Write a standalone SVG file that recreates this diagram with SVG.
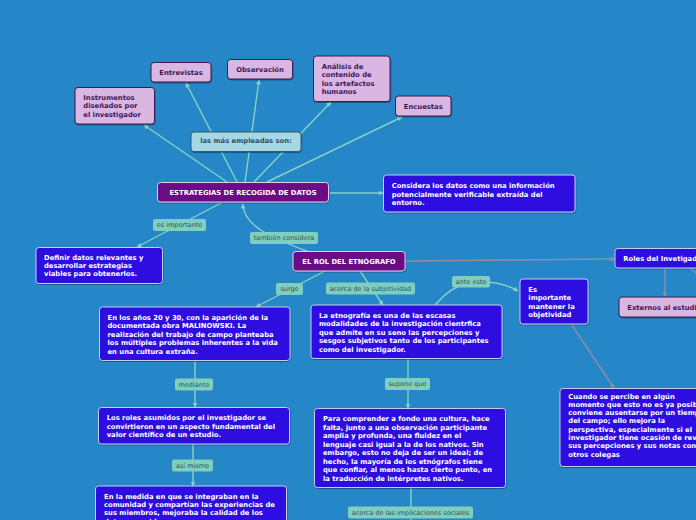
<svg xmlns="http://www.w3.org/2000/svg" width="696" height="520" viewBox="0 0 696 520">
<defs>
<style>
.box{rx:3px;ry:3px;stroke-width:1}
.blue{fill:#2D0CE0;stroke:#C8CDF4}
.purple{fill:#6A0F85;stroke:#E2CFEC}
.lilac{fill:#DAB6E3;stroke:#3C1A4C}
.cyan{fill:#A6D7E5;stroke:#2F5B6B}
.lbl{fill:#7FCEBE;rx:2px;ry:2px}
text{font-family:"DejaVu Sans","Verdana",sans-serif}
.tw{fill:#FFFFFF;font-weight:bold;font-size:6.8px}
.td{fill:#3E1658;font-weight:bold;font-size:6.8px}
.tc{fill:#2E4E5A;font-weight:bold;font-size:6.8px}
.tl{fill:#2E5858;font-size:6.5px}
.c{fill:none;stroke:#86D1C2;stroke-width:1.4}
.g{fill:none;stroke:#8C8FA0;stroke-width:1.4}
</style>
<marker id="at" viewBox="0 0 10 10" refX="9" refY="5" markerWidth="5" markerHeight="5" orient="auto" markerUnits="userSpaceOnUse"><path d="M0,0 L10,5 L0,10 z" fill="#86D1C2"/></marker>
<marker id="ag" viewBox="0 0 10 10" refX="9" refY="5" markerWidth="5" markerHeight="5" orient="auto" markerUnits="userSpaceOnUse"><path d="M0,0 L10,5 L0,10 z" fill="#8C8FA0"/></marker>
<filter id="sh" x="-10%" y="-10%" width="120%" height="130%"><feDropShadow dx="0.5" dy="1" stdDeviation="0.6" flood-color="#000" flood-opacity="0.35"/></filter>
</defs>
<rect x="0" y="0" width="696" height="520" fill="#2587C8"/>

<g id="connectors">
<path class="c" d="M227,182 L144,125" marker-end="url(#at)"/>
<path class="c" d="M237,182 L186,83" marker-end="url(#at)"/>
<path class="c" d="M245,182 L259,80" marker-end="url(#at)"/>
<path class="c" d="M254,182 L331,102" marker-end="url(#at)"/>
<path class="c" d="M267,182 L402,117" marker-end="url(#at)"/>
<path class="c" d="M330,193 L383,193" marker-end="url(#at)"/>
<path class="c" d="M221,203 L137,247" marker-end="url(#at)"/>
<path class="c" d="M309,252 C272,238 243,226 243,204" marker-end="url(#at)"/>
<path class="g" d="M406,261 L615,259" marker-end="url(#ag)"/>
<path class="g" d="M665,268 L665,296" marker-end="url(#ag)"/>
<path class="g" d="M690,268 L700,276"/>
<path class="g" d="M572,325 L614,388" marker-end="url(#ag)"/>
<path class="c" d="M325,271 L256,307" marker-end="url(#at)"/>
<path class="c" d="M360,271 L383,305" marker-end="url(#at)"/>
<path class="c" d="M435,305 Q450,287 470,282 Q500,280 518,291" marker-end="url(#at)"/>
<path class="c" d="M195,361 L195,407" marker-end="url(#at)"/>
<path class="c" d="M193,444 L193,486" marker-end="url(#at)"/>
<path class="c" d="M408,359 L408,408" marker-end="url(#at)"/>
<path class="c" d="M411,488 L411,520"/>
</g>

<g id="lbl-mas">
<rect class="box cyan" x="191" y="132" width="110" height="19.5" filter="url(#sh)"/>
<text class="tc" x="246" y="143.2" text-anchor="middle">las más empleadas son:</text>
</g>
<g id="lbl-es-importante">
<rect class="lbl" x="153" y="219" width="53" height="12"/>
<text class="tl" x="179.5" y="227.3" text-anchor="middle">es importante</text>
</g>
<g id="lbl-tambien">
<rect class="lbl" x="250" y="232" width="68" height="12"/>
<text class="tl" x="284" y="240.3" text-anchor="middle">también considera</text>
</g>
<g id="lbl-surge">
<rect class="lbl" x="276" y="283" width="27" height="12"/>
<text class="tl" x="289.5" y="291.3" text-anchor="middle">surge</text>
</g>
<g id="lbl-subjetividad">
<rect class="lbl" x="326" y="282.5" width="89" height="12"/>
<text class="tl" x="370.5" y="290.8" text-anchor="middle">acerca de la subjetividad</text>
</g>
<g id="lbl-ante">
<rect class="lbl" x="452" y="276" width="38" height="11.5"/>
<text class="tl" x="471" y="284.2" text-anchor="middle">ante esto</text>
</g>
<g id="lbl-mediante">
<rect class="lbl" x="175" y="378.5" width="38" height="12"/>
<text class="tl" x="194" y="386.8" text-anchor="middle">mediante</text>
</g>
<g id="lbl-supone">
<rect class="lbl" x="385" y="378" width="45" height="12"/>
<text class="tl" x="407.5" y="386.3" text-anchor="middle">supone que</text>
</g>
<g id="lbl-asi">
<rect class="lbl" x="172" y="459.5" width="41" height="12"/>
<text class="tl" x="192.5" y="467.8" text-anchor="middle">así mismo</text>
</g>
<g id="lbl-implicaciones">
<rect class="lbl" x="348" y="506.5" width="125" height="12"/>
<text class="tl" x="410.5" y="514.8" text-anchor="middle">acerca de las implicaciones sociales</text>
</g>

<g id="n-instrumentos">
<rect class="box lilac" x="75" y="87.5" width="79.5" height="36.5" filter="url(#sh)"/>
<text class="td" x="83.3"><tspan x="83.3" y="100.2">Instrumentos</tspan><tspan x="83.3" y="108.4">diseñados por</tspan><tspan x="83.3" y="116.6">el investigador</tspan></text>
</g>
<g id="n-entrevistas">
<rect class="box lilac" x="151" y="62.5" width="60" height="19.5" filter="url(#sh)"/>
<text class="td" x="181" y="75.2" text-anchor="middle">Entrevistas</text>
</g>
<g id="n-observacion">
<rect class="box lilac" x="227.5" y="59.5" width="65" height="19.5" filter="url(#sh)"/>
<text class="td" x="260" y="71.8" text-anchor="middle">Observación</text>
</g>
<g id="n-analisis">
<rect class="box lilac" x="313.5" y="56" width="76.5" height="45.5" filter="url(#sh)"/>
<text class="td" x="321.7"><tspan x="321.7" y="68.5">Análisis de</tspan><tspan x="321.7" y="76.8">contenido de</tspan><tspan x="321.7" y="85.5">los artefactos</tspan><tspan x="321.7" y="94">humanos</tspan></text>
</g>
<g id="n-encuestas">
<rect class="box lilac" x="395.5" y="96" width="55.5" height="20" filter="url(#sh)"/>
<text class="td" x="423.3" y="109.2" text-anchor="middle">Encuestas</text>
</g>
<g id="n-estrategias">
<rect class="box purple" x="157.5" y="182.5" width="171" height="19.5" filter="url(#sh)"/>
<text class="tw" x="243" y="194.6" text-anchor="middle">ESTRATEGIAS DE RECOGIDA DE DATOS</text>
</g>
<g id="n-considera">
<rect class="box blue" x="383.5" y="175" width="191.5" height="37" filter="url(#sh)"/>
<text class="tw"><tspan x="391.7" y="188.2">Considera los datos como una información</tspan><tspan x="391.7" y="196.6">potencialmente verificable extraída del</tspan><tspan x="391.7" y="205.2">entorno.</tspan></text>
</g>
<g id="n-definir">
<rect class="box blue" x="36" y="247.5" width="126.5" height="36" filter="url(#sh)"/>
<text class="tw"><tspan x="44" y="259.8">Definir datos relevantes y</tspan><tspan x="44" y="268.2">desarrollar estrategias</tspan><tspan x="44" y="276.2">viables para obtenerlos.</tspan></text>
</g>
<g id="n-rol">
<rect class="box purple" x="293" y="251.5" width="112" height="19.5" filter="url(#sh)"/>
<text class="tw" x="349" y="263.6" text-anchor="middle">EL ROL DEL ETNÓGRAFO</text>
</g>
<g id="n-roles-inv">
<rect class="box blue" x="615" y="248.5" width="95" height="19.5" filter="url(#sh)"/>
<text class="tw" x="623.3" y="260.8">Roles del Invetigador</text>
</g>
<g id="n-externos">
<rect class="box lilac" x="619" y="297" width="90" height="20" filter="url(#sh)"/>
<text class="td" x="627.3" y="309.8">Externos al estudio</text>
</g>
<g id="n-es-importante">
<rect class="box blue" x="520" y="279" width="68" height="45" filter="url(#sh)"/>
<text class="tw"><tspan x="528.3" y="291.8">Es</tspan><tspan x="528.3" y="299.8">importante</tspan><tspan x="528.3" y="308.5">mantener la</tspan><tspan x="528.3" y="316.5">objetividad</tspan></text>
</g>
<g id="n-anos">
<rect class="box blue" x="99.5" y="307" width="190.5" height="53.5" filter="url(#sh)"/>
<text class="tw"><tspan x="107.5" y="319.8">En los años 20 y 30, con la aparición de la</tspan><tspan x="107.5" y="328.3">documentada obra MALINOWSKI.  La</tspan><tspan x="107.5" y="336.8">realización del trabajo de campo planteaba</tspan><tspan x="107.5" y="345.3">los múltiples problemas inherentes a la vida</tspan><tspan x="107.5" y="354.2">en una cultura extraña.</tspan></text>
</g>
<g id="n-etnografia">
<rect class="box blue" x="311" y="305" width="191" height="53.5" filter="url(#sh)"/>
<text class="tw"><tspan x="319" y="317.6">La etnografía es una de las escasas</tspan><tspan x="319" y="326">modalidades de la investigación cientrfica</tspan><tspan x="319" y="334.8">que admite en su seno las percepciones y</tspan><tspan x="319" y="343.2">sesgos subjetivos tanto de los participantes</tspan><tspan x="319" y="352.2">como del investigador.</tspan></text>
</g>
<g id="n-cuando">
<rect class="box blue" x="560" y="388.5" width="150" height="78" filter="url(#sh)"/>
<text class="tw"><tspan x="568.3" y="398.5">Cuando se percibe en algún</tspan><tspan x="568.3" y="406.5">momento que esto no es ya posible,</tspan><tspan x="568.3" y="414.8">conviene ausentarse por un tiempo</tspan><tspan x="568.3" y="423.2">del campo; ello mejora la</tspan><tspan x="568.3" y="431.5">perspectiva, especialmente si el</tspan><tspan x="568.3" y="439.8">investigador tiene ocasión de revisar</tspan><tspan x="568.3" y="448.2">sus percepciones y sus notas con</tspan><tspan x="568.3" y="456.5">otros colegas</tspan></text>
</g>
<g id="n-roles-asumidos">
<rect class="box blue" x="98.5" y="407.5" width="191" height="36.5" filter="url(#sh)"/>
<text class="tw"><tspan x="106.7" y="419.8">Los roles asumidos por el investigador se</tspan><tspan x="106.7" y="428.5">convirtieron en un aspecto fundamental del</tspan><tspan x="106.7" y="436.8">valor científico de un estudio.</tspan></text>
</g>
<g id="n-comprender">
<rect class="box blue" x="314.5" y="408.5" width="191" height="79" filter="url(#sh)"/>
<text class="tw"><tspan x="323" y="420.8">Para comprender a fondo una cultura, hace</tspan><tspan x="323" y="429.8">falta, junto a una observación participante</tspan><tspan x="323" y="438.2">amplia y profunda, una fluidez en el</tspan><tspan x="323" y="446.5">lenguaje casi igual a la de los nativos. Sin</tspan><tspan x="323" y="455.2">embargo, esto no deja de ser un ideal; de</tspan><tspan x="323" y="463.5">hecho, la mayoría de los etnógrafos tiene</tspan><tspan x="323" y="471.8">que confiar, al menos hasta cierto punto, en</tspan><tspan x="323" y="480.8">la traducción de intérpretes nativos.</tspan></text>
</g>
<g id="n-medida">
<rect class="box blue" x="95.5" y="486" width="191" height="50" filter="url(#sh)"/>
<text class="tw"><tspan x="104" y="498.5">En la medida en que se integraban en la</tspan><tspan x="104" y="506.8">comunidad y compartían las experiencias de</tspan><tspan x="104" y="515.2">sus miembros, mejoraba la calidad de los</tspan><tspan x="104" y="523.8">datos recogidos.</tspan></text>
</g>
</svg>
